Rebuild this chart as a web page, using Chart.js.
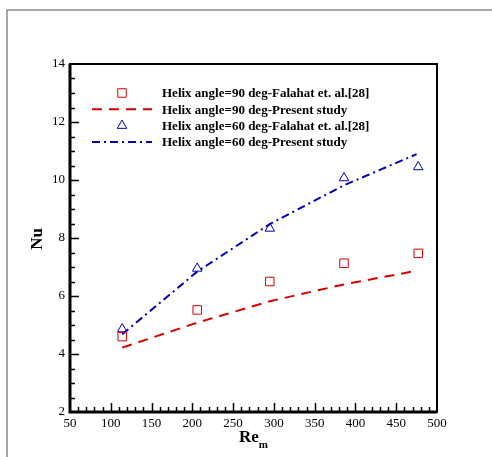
<!DOCTYPE html>
<html>
<head>
<meta charset="utf-8">
<script src="https://cdn.jsdelivr.net/npm/chart.js@4"></script>
<style>
  html, body { margin: 0; padding: 0; background: #fff; }
  #wrap { width: 492px; height: 457px; position: relative; }
</style>
</head>
<body>
<div id="wrap"><canvas id="nuChart" width="492" height="457"></canvas></div>
<script>
// Re_m values for each case
const reExp90 = [114, 206, 295, 386, 477];
const nuExp90 = [4.6, 5.52, 6.5, 7.13, 7.47];
const reSim90 = [114, 206, 295, 386, 475];
const nuSim90 = [4.22, 5.08, 5.82, 6.4, 6.87];

const reExp60 = [114, 206, 295, 386, 477];
const nuExp60 = [4.86, 6.95, 8.33, 10.07, 10.45];
const reSim60 = [114, 206, 295, 386, 475];
const nuSim60 = [4.68, 6.84, 8.48, 9.82, 10.89];

const seriesLabels = [
    'Helix angle=90 deg-Falahat et. al.[28]',
    'Helix angle=90 deg-Present study',
    'Helix angle=60 deg-Falahat et. al.[28]',
    'Helix angle=60 deg-Present study'
];

const RED = '#d80000';
const BLUE = '#0000b8';
const SERIF = '"Liberation Serif", "Times New Roman", serif';

const toPts = (xs, ys) => xs.map((x, i) => ({ x: x, y: ys[i] }));

// inward ticks, box frame, outer figure frame
const framePlugin = {
    id: 'frame',
    beforeDraw(chart) {
        const ctx = chart.ctx;
        ctx.save();
        ctx.strokeStyle = '#8a8a8a';
        ctx.lineWidth = 1.5;
        ctx.beginPath();
        ctx.moveTo(7, 457);
        ctx.lineTo(7, 10);
        ctx.lineTo(492, 10);
        ctx.stroke();
        ctx.restore();
    },
    afterDraw(chart) {
        const ctx = chart.ctx;
        const a = chart.chartArea;
        const xs = chart.scales.x;
        const ys = chart.scales.y;
        ctx.save();
        ctx.strokeStyle = '#000';
        ctx.lineWidth = 1.5;
        ctx.beginPath();
        for (let v = 60; v < 500; v += 10) {
            const px = Math.round(xs.getPixelForValue(v)) + 0.5;
            const len = v % 50 === 0 ? 9 : 5;
            ctx.moveTo(px, a.bottom);
            ctx.lineTo(px, a.bottom - len);
        }
        for (let v = 2.5; v < 14; v += 0.5) {
            const py = Math.round(ys.getPixelForValue(v)) + 0.5;
            const len = v % 2 === 0 ? 9 : 5;
            ctx.moveTo(a.left, py);
            ctx.lineTo(a.left + len, py);
        }
        ctx.stroke();
        ctx.lineWidth = 2;
        ctx.strokeRect(a.left, a.top, a.right - a.left, a.bottom - a.top);
        ctx.lineWidth = 3;
        ctx.beginPath();
        ctx.moveTo(a.left, a.top);
        ctx.lineTo(a.left, a.bottom);
        ctx.lineTo(a.right, a.bottom);
        ctx.stroke();

        // axis titles
        ctx.fillStyle = '#000';
        ctx.font = 'bold 17px ' + SERIF;
        ctx.textBaseline = 'alphabetic';
        ctx.textAlign = 'left';
        ctx.fillText('Re', 239, 442);
        const w = ctx.measureText('Re').width;
        ctx.font = 'bold 11px ' + SERIF;
        ctx.fillText('m', 239 + w, 448);

        ctx.translate(42, 239);
        ctx.rotate(-Math.PI / 2);
        ctx.font = 'bold 17px ' + SERIF;
        ctx.textAlign = 'center';
        ctx.fillText('Nu', 0, 0);
        ctx.restore();
    }
};

// legend drawn inside the plot, from the dataset styles
const legendPlugin = {
    id: 'insideLegend',
    afterDatasetsDraw(chart) {
        const ctx = chart.ctx;
        ctx.save();
        chart.data.datasets.forEach((ds, i) => {
            const y = 93 + i * 16.3;
            ctx.strokeStyle = ds.borderColor;
            if (ds.showLine === false) {
                ctx.lineWidth = 1;
                const r = ds.pointRadius;
                ctx.beginPath();
                if (ds.pointStyle === 'rect') {
                    const s = r * Math.SQRT1_2;
                    ctx.rect(122 - s, y - s, 2 * s, 2 * s);
                } else {
                    ctx.moveTo(122, y - r);
                    ctx.lineTo(122 + r * 0.866, y + r / 2);
                    ctx.lineTo(122 - r * 0.866, y + r / 2);
                    ctx.closePath();
                }
                ctx.stroke();
            } else {
                ctx.lineWidth = ds.borderWidth;
                ctx.setLineDash(ds.borderDash);
                ctx.beginPath();
                ctx.moveTo(92, y);
                ctx.lineTo(152, y);
                ctx.stroke();
                ctx.setLineDash([]);
            }
            ctx.fillStyle = '#000';
            ctx.font = 'bold 13px ' + SERIF;
            ctx.textAlign = 'left';
            ctx.textBaseline = 'middle';
            ctx.fillText(ds.label, 162, y + 1);
        });
        ctx.restore();
    }
};

new Chart(document.getElementById('nuChart'), {
    type: 'line',
    data: {
        datasets: [
            {
                label: seriesLabels[0], data: toPts(reExp90, nuExp90), showLine: false,
                pointStyle: 'rect', pointRadius: 6, borderColor: RED, backgroundColor: 'rgba(0,0,0,0)',
                pointBorderWidth: 1
            },
            {
                label: seriesLabels[1], data: toPts(reSim90, nuSim90), borderColor: RED,
                borderWidth: 2, borderDash: [10, 7], pointRadius: 0, fill: false, tension: 0
            },
            {
                label: seriesLabels[2], data: toPts(reExp60, nuExp60), showLine: false,
                pointStyle: 'triangle', pointRadius: 5.5, borderColor: BLUE, backgroundColor: 'rgba(0,0,0,0)',
                pointBorderWidth: 1
            },
            {
                label: seriesLabels[3], data: toPts(reSim60, nuSim60), borderColor: BLUE,
                borderWidth: 2, borderDash: [8, 4, 2, 4], pointRadius: 0, fill: false, tension: 0
            }
        ]
    },
    options: {
        responsive: false,
        animation: false,
        layout: { padding: { left: 0, top: 64, right: 55, bottom: 0 } },
        plugins: { legend: { display: false }, tooltip: { enabled: false } },
        scales: {
            x: {
                type: 'linear', min: 50, max: 500,
                afterFit: (s) => { s.height = 45; },
                grid: { display: false, drawTicks: false },
                border: { display: false },
                ticks: {
                    stepSize: 50, padding: 4, color: '#000', maxRotation: 0,
                    font: { family: SERIF, size: 13 }
                }
            },
            y: {
                type: 'linear', min: 2, max: 14,
                afterFit: (s) => { s.width = 70; },
                grid: { display: false, drawTicks: false },
                border: { display: false },
                ticks: {
                    stepSize: 2, padding: 5, color: '#000',
                    font: { family: SERIF, size: 13 }
                }
            }
        }
    },
    plugins: [framePlugin, legendPlugin]
});
</script>
</body>
</html>
